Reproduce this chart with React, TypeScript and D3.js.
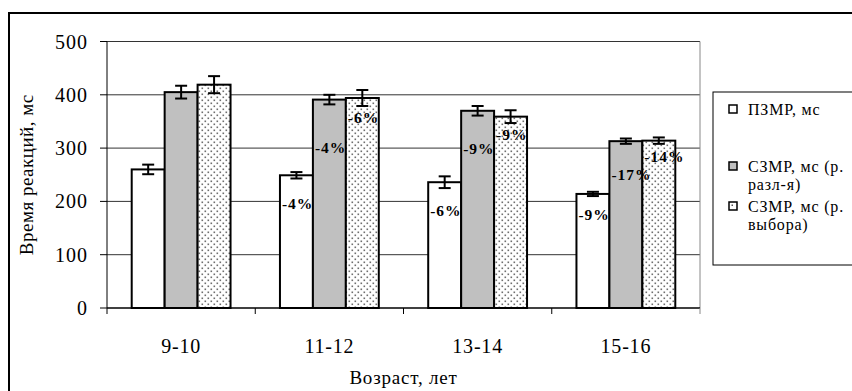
import React from "react";
import * as d3 from "d3";

// age groups
const categories = ["9-10", "11-12", "13-14", "15-16"];
const seriesNames = ["ПЗМР, мс", "СЗМР, мс (р. разл-я)", "СЗМР, мс (р. выбора)"];
const legendLines = [["ПЗМР, мс"], ["СЗМР, мс (р.", "разл-я)"], ["СЗМР, мс (р.", "выбора)"]];

// mean reaction time, ms
const pzmr = [260, 249, 236, 214];
const szmrRazl = [405, 391, 370, 313];
const szmrVybor = [419, 394, 359, 314];

// error bar half-widths, ms
const pzmrErr = [9, 6, 11, 4];
const szmrRazlErr = [12, 9, 9, 5];
const szmrVyborErr = [16, 15, 12, 6];

// change vs 9-10 group
const pzmrPct = ["", "-4%", "-6%", "-9%"];
const szmrRazlPct = ["", "-4%", "-9%", "-17%"];
const szmrVyborPct = ["", "-6%", "-9%", "-14%"];

const yTicks = [0, 100, 200, 300, 400, 500];

// how far below the bar top each label sits (px)
const labelDrop = [
  [0, 28, 28, 21],
  [0, 48, 38, 33],
  [0, 20, 18, 16],
];

const W = 852;
const H = 391;
const margin = { left: 107, right: 152, top: 41.5, bottom: 83 };
const serif = '"Liberation Serif", "Times New Roman", Times, "DejaVu Serif", serif';

export default function App() {
  const values = [pzmr, szmrRazl, szmrVybor];
  const errs = [pzmrErr, szmrRazlErr, szmrVyborErr];
  const pcts = [pzmrPct, szmrRazlPct, szmrVyborPct];
  const fills = ["#ffffff", "#c0c0c0", "url(#dots)"];

  const x = d3.scaleBand().domain(categories).range([margin.left, W - margin.right]);
  const step = x.bandwidth();
  const gap = 0.5 * 1.5 / 4.5; // excel gap width 150%
  const x1 = d3
    .scaleBand()
    .domain(seriesNames)
    .range([step * gap, step * (1 - gap)]);
  const y = d3.scaleLinear().domain([0, 500]).range([H - margin.bottom, margin.top]);

  const x0 = margin.left;
  const x2 = W - margin.right;
  const yb = y(0);

  return (
    <svg
      width={W}
      height={H}
      style={{ position: "absolute", left: 0, top: 0, background: "#fff", fontFamily: serif }}
    >
      <style>{`text { font-family: ${serif}; }`}</style>
      <defs>
        <pattern id="dots" width={6} height={6} patternUnits="userSpaceOnUse">
          <rect width={6} height={6} fill="#fff" />
          <rect x={0.5} y={0.5} width={1.6} height={1.6} fill="#6e6e6e" />
          <rect x={3.5} y={3.5} width={1.6} height={1.6} fill="#6e6e6e" />
        </pattern>
      </defs>

      {/* outer frame, runs off the page on the right and bottom */}
      <rect x={9} y={13} width={900} height={500} fill="none" stroke="#000" strokeWidth={2} />

      {/* gridlines */}
      {yTicks.slice(1).map((t) => (
        <line key={t} x1={x0} x2={x2} y1={y(t)} y2={y(t)} stroke="#333" strokeWidth={1} />
      ))}
      <line x1={x2} x2={x2} y1={y(500)} y2={yb} stroke="#888" strokeWidth={1} />

      {/* bars */}
      {values.map((vals, si) =>
        categories.map((c, ci) => {
          const bx = (x(c) as number) + (x1(seriesNames[si]) as number);
          const bw = x1.bandwidth();
          return (
            <rect
              key={`b${si}-${ci}`}
              x={bx}
              y={y(vals[ci])}
              width={bw}
              height={yb - y(vals[ci])}
              fill={fills[si]}
              stroke="#000"
              strokeWidth={2}
            />
          );
        })
      )}

      {/* error bars */}
      {values.map((vals, si) =>
        categories.map((c, ci) => {
          const cx = (x(c) as number) + (x1(seriesNames[si]) as number) + x1.bandwidth() / 2;
          const hi = y(vals[ci] + errs[si][ci]);
          const lo = y(vals[ci] - errs[si][ci]);
          return (
            <g key={`e${si}-${ci}`} stroke="#000" strokeWidth={2}>
              <line x1={cx} x2={cx} y1={hi} y2={lo} />
              <line x1={cx - 6} x2={cx + 6} y1={hi} y2={hi} />
              <line x1={cx - 6} x2={cx + 6} y1={lo} y2={lo} />
            </g>
          );
        })
      )}

      {/* percent labels */}
      {pcts.map((labs, si) =>
        categories.map((c, ci) =>
          labs[ci] ? (
            <text
              key={`l${si}-${ci}`}
              x={(x(c) as number) + (x1(seriesNames[si]) as number) + 2}
              y={y(values[si][ci]) + labelDrop[si][ci]}
              dy="0.35em"
              fontSize={15.5}
              fontWeight="bold"
              letterSpacing={1}
              fill="#000"
            >
              {labs[ci]}
            </text>
          ) : null
        )
      )}

      {/* axes */}
      <line x1={x0} x2={x0} y1={y(500)} y2={yb + 6} stroke="#000" strokeWidth={1} />
      <line x1={x0} x2={x2} y1={yb} y2={yb} stroke="#000" strokeWidth={1.5} />
      {yTicks.map((t) => (
        <g key={`t${t}`}>
          <line x1={x0 - 7} x2={x0} y1={y(t)} y2={y(t)} stroke="#000" />
          <text x={x0 - 19} y={y(t)} dy="0.35em" textAnchor="end" fontSize={20} letterSpacing={1}>
            {t}
          </text>
        </g>
      ))}
      {categories.map((c, ci) => (
        <g key={`c${c}`}>
          {ci > 0 && (
            <line x1={x(c)} x2={x(c)} y1={yb} y2={yb + 6} stroke="#000" />
          )}
          <text
            x={(x(c) as number) + step / 2}
            y={yb + 45}
            textAnchor="middle"
            fontSize={20}
            letterSpacing={0.8}
          >
            {c}
          </text>
        </g>
      ))}
      <line x1={x2} x2={x2} y1={yb} y2={yb + 6} stroke="#888" />

      <text
        transform={`translate(33,${(y(500) + yb) / 2}) rotate(-90)`}
        textAnchor="middle"
        fontSize={19}
        letterSpacing={0.5}
      >
        Время реакций, мс
      </text>
      <text x={(x0 + x2) / 2} y={384} textAnchor="middle" fontSize={19} letterSpacing={0.8}>
        Возраст, лет
      </text>

      {/* legend */}
      <rect x={713} y={92} width={160} height={173} fill="#fff" stroke="#000" strokeWidth={1} />
      {legendLines.map((lines, si) => {
        const ly = [109, 166, 206][si];
        return (
          <g key={`lg${si}`}>
            <rect x={729} y={ly - 4} width={8} height={8} fill={si === 2 ? "#fff" : fills[si]} stroke="#000" strokeWidth={1.5} />
            {si === 2 && <rect x={731.5} y={ly - 1.5} width={1.5} height={1.5} fill="#555" />}
            {lines.map((ln, li) => (
              <text key={li} x={748} y={ly + li * 18} dy="0.35em" fontSize={16} letterSpacing={0.8}>
                {ln}
              </text>
            ))}
          </g>
        );
      })}
    </svg>
  );
}
